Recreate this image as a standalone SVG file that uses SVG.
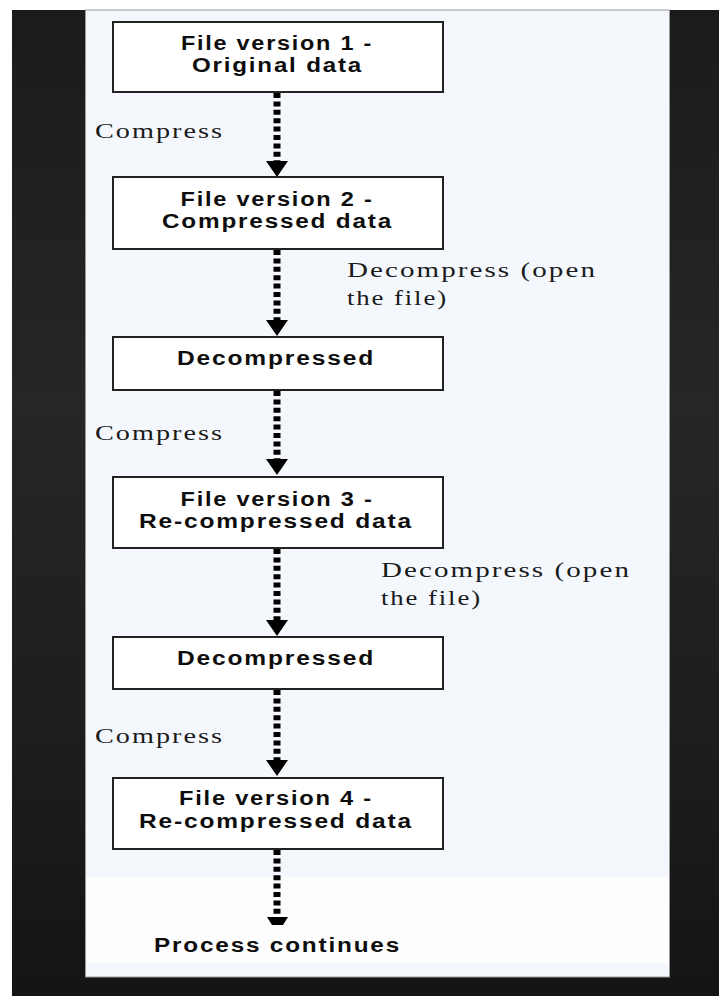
<svg xmlns="http://www.w3.org/2000/svg" xmlns:xlink="http://www.w3.org/1999/xlink" width="719" height="996" viewBox="0 0 719 996">
  <defs>
    <linearGradient id="frameShade" x1="0" y1="0" x2="0" y2="1">
      <stop offset="0" stop-color="#1b1b1b"/>
      <stop offset="0.4" stop-color="#262626"/>
      <stop offset="0.75" stop-color="#1d1d1d"/>
      <stop offset="1" stop-color="#141414"/>
    </linearGradient>
    <path id="head" d="M-11,0 L11,0 L0,16 Z" fill="#000"/>
    <style>
      .box { fill: #ffffff; stroke: #222; stroke-width: 2; }
      .title { font-family: "Liberation Sans", Arial, sans-serif; font-weight: bold; font-size: 20px; letter-spacing: 1.5px; fill: #0d0d0d; text-anchor: middle; }
      .note { font-family: "Liberation Serif", "Times New Roman", serif; font-size: 21px; letter-spacing: 1.5px; fill: #1a1a1a; }
      .flow { stroke: #000; stroke-width: 7; stroke-dasharray: 5 3.4; fill: none; }
    </style>
  </defs>

  <!-- page background and dark frame -->
  <rect x="0" y="0" width="719" height="996" fill="#ffffff"/>
  <rect x="12" y="10" width="707" height="986" fill="url(#frameShade)"/>
  <rect x="85.5" y="10" width="584" height="967" fill="#f4f8fc" stroke="#9a9a9a" stroke-width="1"/>
  <rect x="86" y="877" width="583" height="86" fill="#fdfdfe"/>

  <!-- connectors -->
  <g id="connectors">
    <line class="flow" x1="277" y1="93" x2="277" y2="162"/>
    <use xlink:href="#head" x="277" y="161"/>
    <line class="flow" x1="277" y1="250" x2="277" y2="321"/>
    <use xlink:href="#head" x="277" y="320"/>
    <line class="flow" x1="277" y1="391" x2="277" y2="459"/>
    <use xlink:href="#head" x="277" y="459"/>
    <line class="flow" x1="277" y1="549" x2="277" y2="621"/>
    <use xlink:href="#head" x="277" y="620"/>
    <line class="flow" x1="277" y1="690" x2="277" y2="761"/>
    <use xlink:href="#head" x="277" y="760"/>
    <line class="flow" x1="277" y1="850" x2="277" y2="917"/>
    <polygon points="267,917 288,917 283,925 272,925" fill="#000"/>

    <text class="note" x="95" y="138" textLength="129" lengthAdjust="spacingAndGlyphs">Compress</text>
    <text class="note" x="347" y="277" textLength="250" lengthAdjust="spacingAndGlyphs">Decompress (open</text>
    <text class="note" x="347" y="305" textLength="101" lengthAdjust="spacingAndGlyphs">the file)</text>
    <text class="note" x="95" y="440" textLength="129" lengthAdjust="spacingAndGlyphs">Compress</text>
    <text class="note" x="381" y="577" textLength="250" lengthAdjust="spacingAndGlyphs">Decompress (open</text>
    <text class="note" x="381" y="605" textLength="101" lengthAdjust="spacingAndGlyphs">the file)</text>
    <text class="note" x="95" y="743" textLength="129" lengthAdjust="spacingAndGlyphs">Compress</text>
  </g>

  <!-- nodes -->
  <g id="v1">
    <rect class="box" x="113" y="22" width="330" height="70"/>
    <text class="title" x="277" y="50" textLength="192" lengthAdjust="spacingAndGlyphs">File version 1 -</text>
    <text class="title" x="277.5" y="72" textLength="171" lengthAdjust="spacingAndGlyphs">Original data</text>
  </g>
  <g id="v2">
    <rect class="box" x="113" y="177" width="330" height="72"/>
    <text class="title" x="277" y="206" textLength="193" lengthAdjust="spacingAndGlyphs">File version 2 -</text>
    <text class="title" x="277.5" y="228" textLength="231" lengthAdjust="spacingAndGlyphs">Compressed data</text>
  </g>
  <g id="dec1">
    <rect class="box" x="113" y="337" width="330" height="53"/>
    <text class="title" x="276" y="365" textLength="198" lengthAdjust="spacingAndGlyphs">Decompressed</text>
  </g>
  <g id="v3">
    <rect class="box" x="113" y="477" width="330" height="71"/>
    <text class="title" x="277" y="506" textLength="193" lengthAdjust="spacingAndGlyphs">File version 3 -</text>
    <text class="title" x="276" y="528" textLength="274" lengthAdjust="spacingAndGlyphs">Re-compressed data</text>
  </g>
  <g id="dec2">
    <rect class="box" x="113" y="637" width="330" height="52"/>
    <text class="title" x="276" y="665" textLength="198" lengthAdjust="spacingAndGlyphs">Decompressed</text>
  </g>
  <g id="v4">
    <rect class="box" x="113" y="778" width="330" height="71"/>
    <text class="title" x="276" y="805" textLength="194" lengthAdjust="spacingAndGlyphs">File version 4 -</text>
    <text class="title" x="276" y="828" textLength="274" lengthAdjust="spacingAndGlyphs">Re-compressed data</text>
  </g>
  <g id="continues">
    <text class="title" x="277.5" y="952" textLength="247" lengthAdjust="spacingAndGlyphs">Process continues</text>
  </g>
</svg>
